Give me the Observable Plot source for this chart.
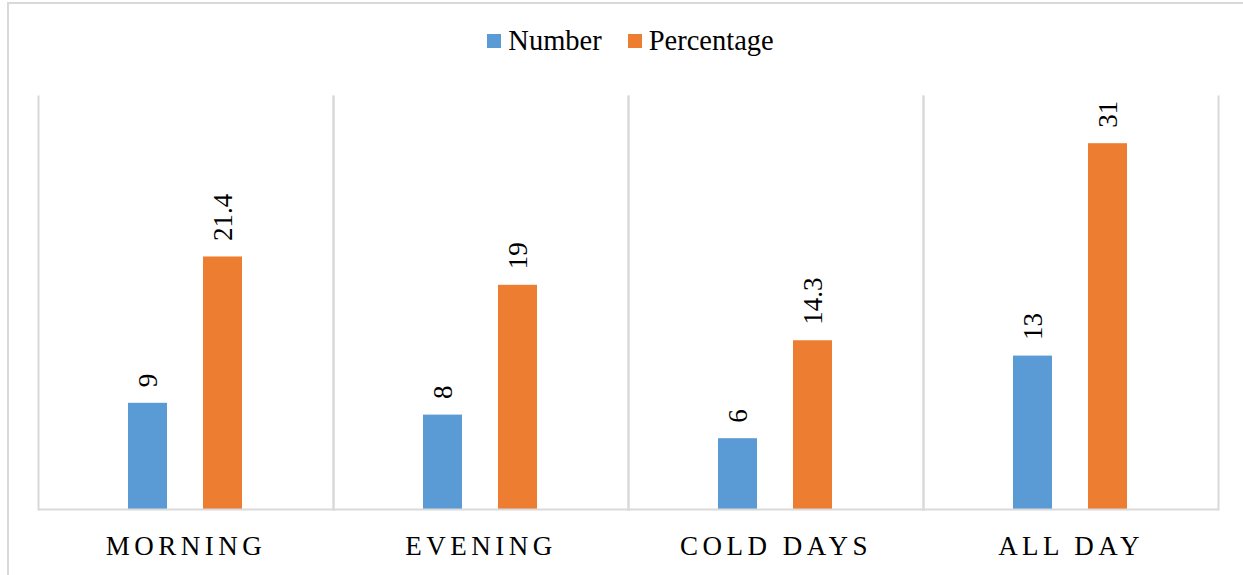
<!DOCTYPE html>
<html>
<head>
<meta charset="utf-8">
<script src="https://cdn.jsdelivr.net/npm/d3@7"></script>
<script src="https://cdn.jsdelivr.net/npm/@observablehq/plot@0.6"></script>
<style>
  html, body { margin: 0; padding: 0; background: #fff; }
  #wrap { position: relative; width: 1243px; height: 575px; overflow: hidden; font-family: 'Liberation Serif'; }
  #edge { position: absolute; left: 7px; top: 2px; width: 1300px; height: 600px; border-left: 2px solid #d9d9d9; border-top: 2px solid #d9d9d9; pointer-events: none; }
  #legend { height: 76px; display: flex; justify-content: center; align-items: flex-start; padding-left: 18px; box-sizing: border-box; padding-top: 25px; font-size: 28.5px; color: #000; font-family: 'Liberation Serif'; }
  .item { display: flex; align-items: center; margin: 0 13px; line-height: 32px; }
  .swatch { width: 14px; height: 14px; margin-right: 7px; }
  #chart g[aria-label="fx-axis tick label"] text { letter-spacing: 4.5px; }
</style>
</head>
<body>
<div id="wrap">
  <div id="edge"></div>
  <div id="legend"></div>
  <div id="chart"></div>
</div>
<script>
// Survey categories and the two series shown for each
const categories = ["MORNING", "EVENING", "COLD DAYS", "ALL DAY"];
const numberValues = [9, 8, 6, 13];
const percentageValues = [21.4, 19, 14.3, 31];
const seriesNames = ["Number", "Percentage"];
const seriesColors = ["#5B9BD5", "#ED7D31"];
const fontFamily = "Liberation Serif";

const rows = categories.flatMap((c, i) => [
  {category: c, series: seriesNames[0], value: numberValues[i]},
  {category: c, series: seriesNames[1], value: percentageValues[i]}
]);

// Legend above the chart
const legend = document.getElementById("legend");
seriesNames.forEach((name, i) => {
  const item = document.createElement("div");
  item.className = "item";
  const sw = document.createElement("span");
  sw.className = "swatch";
  sw.style.background = seriesColors[i];
  const label = document.createElement("span");
  label.textContent = name;
  item.appendChild(sw);
  item.appendChild(label);
  legend.appendChild(item);
});

const gridColor = "#d9d9d9";

const chart = Plot.plot({
  width: 1243,
  height: 499,
  marginTop: 20,
  marginBottom: 66,
  marginLeft: 37,
  marginRight: 25,
  style: {fontFamily, color: "#000", background: "transparent"},
  fx: {domain: categories, padding: 0, label: null},
  x: {domain: seriesNames, paddingInner: 0.4737, paddingOuter: 1.179, axis: null},
  y: {domain: [0, 35], axis: null},
  color: {domain: seriesNames, range: seriesColors},
  marks: [
    // category separators and baseline
    Plot.frame({anchor: "left", stroke: gridColor, strokeWidth: 2}),
    Plot.frame({anchor: "right", stroke: gridColor, strokeWidth: 2}),
    Plot.barY(rows, {fx: "category", x: "series", y: "value", fill: "series"}),
    Plot.ruleY([0], {stroke: gridColor, strokeWidth: 2}),
    // value labels, rotated, above each bar
    Plot.text(rows, {
      fx: "category", x: "series", y: "value",
      text: d => String(d.value),
      rotate: -90, textAnchor: "start", dy: -16,
      fontSize: 27, fontFamily, fill: "#000"
    }),
    Plot.axisFx({anchor: "bottom", tickSize: 0, tickPadding: 26, fontSize: 27, fontFamily, label: null})
  ]
});
document.getElementById("chart").appendChild(chart);
</script>
</body>
</html>
